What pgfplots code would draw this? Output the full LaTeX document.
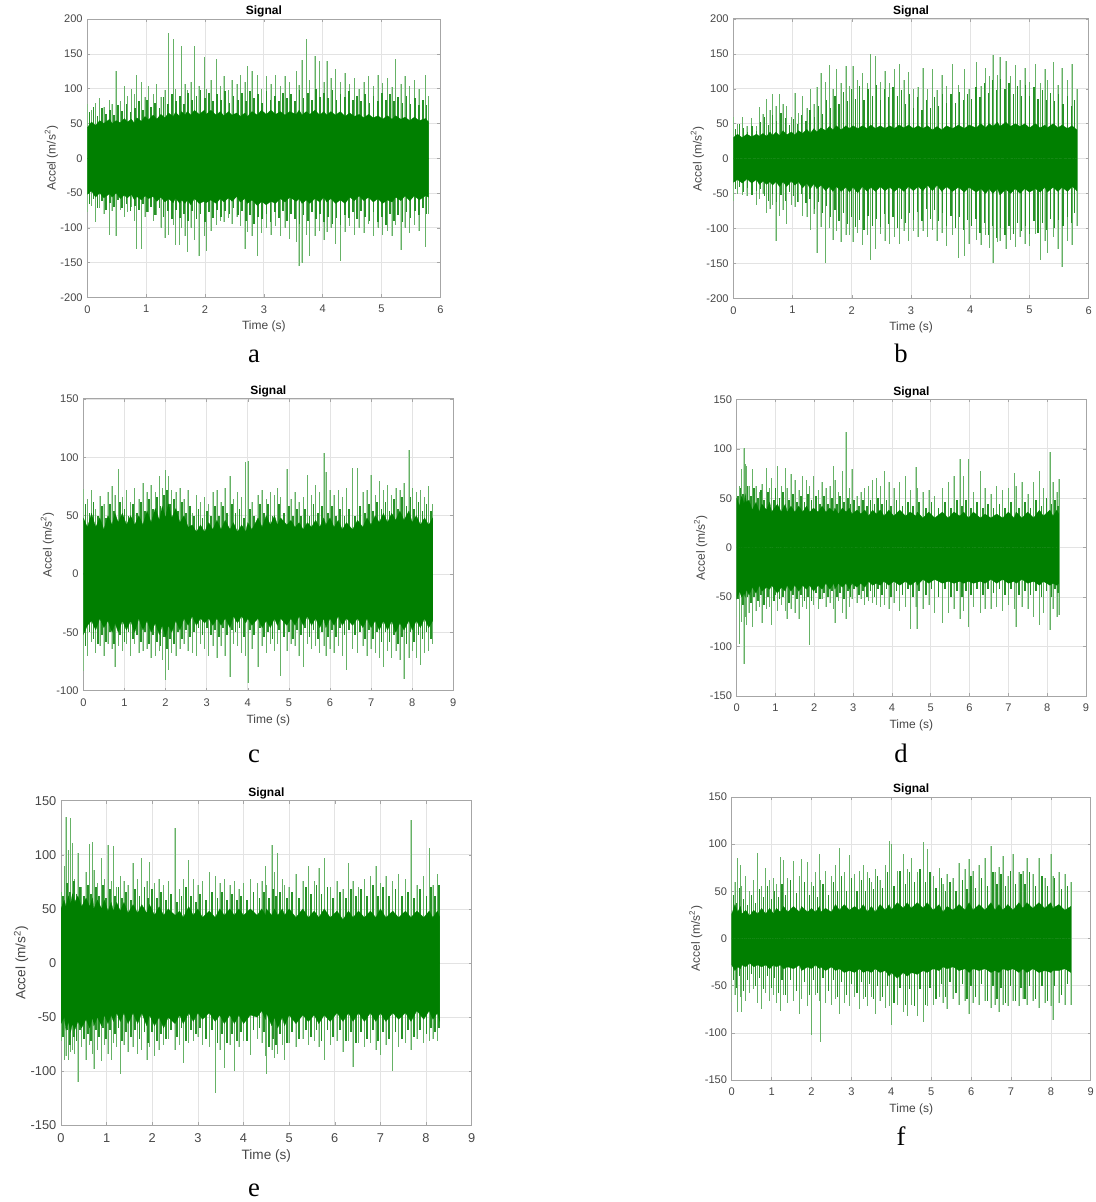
\documentclass[border=0pt]{standalone}
\usepackage{fontspec}
\setmainfont{Liberation Sans}
\newfontfamily\capfont{Liberation Serif}
\usepackage{pgfplots}
\usepackage{pgfplotstable}
\pgfplotsset{compat=1.18}
\definecolor{sg}{RGB}{0,127,0}
\definecolor{tk}{RGB}{70,70,70}

% columns: time, peak up, peak down, top and bottom of the solid band
\pgfplotstableread{
t up dn cu cd
0.00 78 -78 44 -52
0.07 70 -68 52 -47
0.14 80 -92 47 -56
0.21 86 -72 54 -50
0.28 74 -80 50 -57
0.38 84 -110 56 -51
0.42 78 -76 50 -56
0.49 126 -112 54 -50
0.56 82 -74 51 -58
0.63 104 -84 57 -53
0.68 90 -78 52 -57
0.75 100 -70 56 -52
0.80 92 -90 50 -60
0.84 119 -130 58 -55
0.92 110 -130 53 -60
0.98 88 -84 60 -54
1.04 104 -78 55 -58
1.12 92 -90 62 -55
1.18 106 -82 56 -62
1.25 88 -100 63 -56
1.32 98 -114 58 -63
1.38 180 -110 65 -58
1.46 171 -96 60 -64
1.50 100 -125 66 -57
1.57 90 -125 60 -65
1.60 162 -100 67 -60
1.66 106 -112 62 -65
1.70 98 -135 67 -60
1.76 110 -100 62 -67
1.82 162 -118 69 -58
1.90 104 -140 63 -65
1.99 145 -112 69 -62
2.02 100 -133 63 -64
2.10 112 -104 69 -60
2.19 143 -96 62 -65
2.26 104 -90 67 -58
2.32 118 -92 61 -63
2.40 98 -86 67 -57
2.46 112 -94 62 -62
2.54 106 -84 65 -55
2.60 120 -98 60 -63
2.68 110 -130 65 -58
2.72 133 -106 60 -65
2.80 126 -112 67 -60
2.89 120 -140 62 -68
2.96 100 -108 69 -62
3.04 118 -100 63 -67
3.12 106 -110 69 -62
3.20 120 -98 63 -65
3.28 104 -112 67 -58
3.36 118 -100 62 -63
3.44 110 -116 67 -56
3.55 125 -120 63 -62
3.60 105 -155 69 -58
3.65 141 -150 62 -65
3.72 172 -110 67 -60
3.78 112 -140 63 -65
3.87 147 -112 69 -58
3.95 140 -104 62 -63
4.02 110 -118 67 -56
4.07 140 -106 62 -63
4.14 116 -100 67 -58
4.22 128 -124 62 -65
4.30 110 -148 67 -60
4.38 122 -106 60 -65
4.46 106 -98 65 -56
4.54 116 -110 60 -61
4.62 100 -100 63 -54
4.70 110 -108 58 -61
4.78 118 -94 63 -56
4.86 104 -112 58 -63
4.94 120 -100 61 -58
5.02 108 -110 56 -65
5.10 116 -104 61 -60
5.18 102 -112 56 -63
5.24 143 -96 61 -56
5.33 106 -132 56 -61
5.40 118 -100 59 -54
5.48 104 -108 54 -61
5.56 112 -96 59 -54
5.64 100 -104 54 -60
5.75 119 -128 57 -54
5.80 90 -80 52 -56
}\ta
\pgfplotstableread{
t mu md
0.035 66 -66
0.105 74 -58
0.175 60 -72
0.245 72 -62
0.315 64 -74
0.385 70 -64
0.455 62 -70
0.525 76 -60
0.595 68 -72
0.665 78 -66
0.735 66 -76
0.805 72 -68
0.875 82 -74
0.945 70 -66
1.015 84 -78
1.085 74 -70
1.155 80 -82
1.225 72 -72
1.295 88 -84
1.365 78 -76
1.435 92 -88
1.505 82 -74
1.575 90 -86
1.645 78 -80
1.715 94 -90
1.785 84 -76
1.855 90 -88
1.925 98 -80
1.995 86 -92
2.065 94 -78
2.135 82 -86
2.205 92 -74
2.275 84 -84
2.345 96 -76
2.415 80 -80
2.485 90 -72
2.555 84 -82
2.625 94 -76
2.695 82 -90
2.765 96 -82
2.835 86 -94
2.905 92 -84
2.975 80 -88
3.045 96 -80
3.115 84 -92
3.185 90 -78
3.255 82 -86
3.325 94 -76
3.395 86 -90
3.465 92 -80
3.535 82 -88
3.605 98 -94
3.675 86 -82
3.745 94 -90
3.815 84 -78
3.885 100 -88
3.955 88 -80
4.025 94 -92
4.095 86 -84
4.165 98 -94
4.235 84 -86
4.305 92 -96
4.375 88 -82
4.445 96 -86
4.515 84 -78
4.585 90 -88
4.655 82 -76
4.725 92 -84
4.795 80 -90
4.865 90 -78
4.935 82 -92
5.005 94 -84
5.075 84 -96
5.145 92 -80
5.215 82 -90
5.285 88 -82
5.355 80 -92
5.425 90 -78
5.495 78 -86
5.565 86 -76
5.635 76 -82
5.705 84 -72
5.765 76 -80
}\ma

\pgfplotstableread{
t up dn cu cd
0.00 60 -60 30 -34
0.07 50 -50 35 -30
0.15 59 -52 30 -35
0.23 47 -54 35 -29
0.31 58 -48 31 -35
0.39 46 -66 35 -30
0.44 74 -58 32 -37
0.50 64 -50 36 -32
0.56 85 -78 32 -37
0.62 70 -72 38 -33
0.66 92 -66 33 -38
0.72 76 -118 38 -33
0.78 92 -82 33 -40
0.84 78 -74 40 -33
0.90 76 -94 34 -40
0.98 60 -66 38 -32
1.04 94 -70 34 -38
1.10 66 -62 40 -33
1.17 90 -82 36 -42
1.24 72 -84 42 -35
1.30 100 -102 36 -43
1.36 78 -80 43 -36
1.41 102 -135 38 -43
1.48 122 -98 44 -38
1.56 110 -150 40 -46
1.62 134 -100 46 -40
1.68 100 -116 41 -47
1.74 128 -104 47 -40
1.82 108 -120 41 -47
1.90 133 -110 47 -41
1.96 104 -110 43 -48
2.02 133 -120 47 -41
2.10 112 -106 43 -49
2.18 122 -124 47 -40
2.26 108 -110 43 -47
2.32 150 -145 48 -41
2.40 147 -130 43 -47
2.48 110 -108 47 -40
2.56 126 -118 43 -46
2.64 108 -122 47 -41
2.72 128 -112 43 -47
2.80 135 -122 48 -41
2.88 112 -104 44 -47
2.96 124 -118 48 -40
3.04 100 -104 43 -46
3.12 102 -112 47 -40
3.20 130 -104 43 -46
3.28 100 -112 47 -38
3.36 128 -102 41 -46
3.44 98 -118 46 -38
3.52 120 -106 41 -47
3.60 104 -125 47 -40
3.70 135 -110 43 -47
3.80 106 -143 48 -41
3.90 128 -140 43 -48
3.98 100 -122 48 -41
4.10 138 -116 44 -48
4.18 104 -124 50 -43
4.26 130 -110 44 -50
4.32 118 -128 50 -43
4.38 149 -150 46 -50
4.46 120 -120 52 -43
4.50 145 -118 46 -52
4.60 140 -130 52 -44
4.68 118 -116 46 -50
4.76 134 -126 50 -43
4.84 112 -112 46 -50
4.92 130 -122 50 -43
5.00 110 -125 44 -48
5.10 135 -108 50 -43
5.18 108 -145 44 -48
5.26 128 -118 48 -41
5.30 112 -135 44 -48
5.40 138 -112 50 -41
5.48 106 -130 44 -47
5.55 130 -155 48 -41
5.64 112 -118 43 -47
5.72 135 -124 47 -40
5.80 100 -96 41 -46
}\tb
\pgfplotstableread{
t mu md
0.035 42 -44
0.105 50 -40
0.175 44 -48
0.245 38 -42
0.315 46 -52
0.385 40 -46
0.455 52 -44
0.525 60 -54
0.595 48 -60
0.665 62 -50
0.735 54 -62
0.805 66 -52
0.875 58 -60
0.945 48 -48
1.015 56 -54
1.085 50 -62
1.155 62 -50
1.225 54 -64
1.295 70 -58
1.365 60 -72
1.435 76 -62
1.505 64 -78
1.575 84 -68
1.645 72 -84
1.715 90 -74
1.785 78 -90
1.855 96 -78
1.925 82 -94
1.995 100 -84
2.065 86 -98
2.135 104 -88
2.205 84 -102
2.275 100 -82
2.345 90 -96
2.415 106 -86
2.485 84 -98
2.555 100 -80
2.625 88 -94
2.695 102 -84
2.765 90 -100
2.835 98 -86
2.905 78 -92
2.975 92 -78
3.045 72 -88
3.115 88 -76
3.185 70 -90
3.255 84 -72
3.325 72 -86
3.395 88 -74
3.465 76 -90
3.535 92 -78
3.605 80 -96
3.675 92 -82
3.745 80 -100
3.815 96 -84
3.885 84 -102
3.955 92 -88
4.025 86 -96
4.095 102 -86
4.165 88 -106
4.235 108 -92
4.305 94 -110
4.375 112 -96
4.445 98 -114
4.515 114 -100
4.585 100 -110
4.655 108 -96
4.725 92 -108
4.795 104 -92
4.865 90 -104
4.935 106 -96
5.005 90 -108
5.075 102 -90
5.145 86 -106
5.215 98 -92
5.285 84 -102
5.355 94 -86
5.425 82 -100
5.495 92 -88
5.565 78 -96
5.635 90 -84
5.705 76 -92
5.765 84 -78
}\mb

\pgfplotstableread{
t up dn cu cd
0.00 73 -83 48 -52
0.10 64 -70 40 -44
0.20 72 -58 52 -40
0.30 56 -68 40 -48
0.40 67 -62 48 -38
0.50 60 -70 38 -46
0.60 70 -60 50 -40
0.70 75 -64 42 -50
0.77 68 -80 52 -42
0.85 90 -62 44 -50
0.95 66 -66 52 -40
1.05 72 -60 42 -48
1.15 62 -70 50 -40
1.25 74 -60 42 -50
1.35 64 -68 50 -38
1.45 78 -66 42 -48
1.55 70 -64 54 -40
1.65 76 -72 44 -50
1.75 70 -70 56 -42
1.85 84 -66 46 -52
1.92 74 -74 58 -44
2.00 89 -91 48 -54
2.07 84 -82 60 -44
2.15 72 -68 48 -50
2.25 70 -70 56 -40
2.35 74 -64 44 -48
2.45 64 -60 50 -38
2.55 72 -66 40 -44
2.65 52 -68 42 -36
2.75 68 -70 36 -44
2.85 62 -60 42 -38
2.95 66 -64 36 -42
3.05 60 -70 44 -38
3.15 70 -62 38 -44
3.25 72 -72 46 -38
3.35 62 -62 38 -44
3.45 74 -70 46 -38
3.57 84 -88 38 -46
3.65 64 -60 44 -36
3.75 70 -62 36 -42
3.85 66 -68 42 -36
3.95 96 -70 36 -42
4.00 97 -93 44 -38
4.10 62 -64 38 -44
4.25 68 -80 48 -38
4.35 72 -62 40 -46
4.45 64 -68 50 -40
4.55 70 -60 42 -46
4.65 68 -66 50 -38
4.72 74 -60 42 -44
4.80 66 -87 48 -38
4.95 90 -66 42 -44
5.05 64 -60 46 -38
5.15 70 -62 40 -44
5.25 62 -70 44 -36
5.35 66 -80 38 -44
5.45 85 -60 44 -36
5.55 68 -64 40 -44
5.65 76 -62 46 -38
5.75 70 -68 40 -46
5.85 104 -62 48 -38
5.90 87 -70 42 -46
6.00 72 -64 48 -38
6.10 68 -68 40 -44
6.20 72 -62 46 -36
6.30 66 -70 38 -44
6.40 74 -82 44 -38
6.55 91 -64 38 -44
6.67 91 -68 46 -38
6.80 70 -62 40 -46
6.90 72 -70 48 -38
7.00 85 -64 42 -46
7.10 68 -68 50 -40
7.20 80 -72 44 -48
7.30 72 -80 52 -40
7.40 76 -66 44 -48
7.50 68 -72 52 -40
7.60 74 -66 46 -50
7.70 72 -74 54 -42
7.80 78 -90 46 -48
7.92 106 -72 54 -40
8.00 74 -66 44 -48
8.10 70 -72 50 -40
8.20 72 -78 42 -46
8.30 66 -68 48 -38
8.40 75 -66 42 -46
8.50 60 -60 48 -40
}\tc
\pgfplotstableread{
t mu md
0.05 60 -62
0.15 52 -50
0.25 62 -56
0.35 50 -60
0.45 58 -52
0.55 48 -58
0.65 60 -50
0.75 54 -60
0.90 62 -52
1.00 56 -58
1.10 50 -50
1.20 60 -56
1.30 52 -52
1.40 62 -58
1.50 54 -50
1.60 64 -60
1.70 56 -52
1.80 66 -58
1.88 58 -62
1.96 68 -54
2.04 72 -64
2.11 60 -56
2.20 64 -60
2.30 54 -50
2.40 62 -56
2.50 52 -48
2.60 58 -54
2.70 50 -50
2.80 56 -46
2.90 48 -52
3.00 54 -46
3.10 50 -52
3.20 58 -48
3.30 50 -54
3.40 58 -46
3.50 52 -52
3.61 60 -48
3.70 52 -50
3.80 56 -46
3.90 48 -54
4.05 56 -48
4.15 50 -52
4.30 60 -46
4.40 52 -54
4.50 60 -50
4.60 50 -56
4.76 60 -48
4.88 52 -54
5.00 58 -50
5.10 50 -56
5.20 56 -48
5.30 50 -52
5.40 56 -46
5.50 50 -54
5.60 60 -48
5.70 52 -56
5.80 58 -50
5.95 52 -54
6.05 58 -48
6.15 50 -54
6.25 56 -46
6.35 50 -52
6.47 56 -48
6.60 50 -52
6.73 58 -50
6.85 52 -56
6.95 60 -48
7.05 54 -56
7.15 62 -50
7.25 56 -58
7.35 62 -50
7.45 54 -58
7.55 64 -52
7.65 56 -60
7.75 66 -54
7.86 58 -60
7.96 66 -50
8.05 56 -58
8.15 62 -52
8.25 54 -56
8.35 60 -50
8.45 54 -56
}\mc

\pgfplotstableread{
t up dn cu cd
0.00 60 -70 50 -52
0.07 62 -97 42 -44
0.13 80 -75 52 -50
0.19 101 -118 44 -46
0.22 85 -70 54 -50
0.25 83 -78 46 -42
0.32 62 -66 48 -48
0.40 80 -80 38 -40
0.50 62 -64 46 -46
0.58 56 -60 36 -38
0.65 64 -76 44 -44
0.77 81 -62 38 -40
0.85 60 -60 46 -42
0.90 70 -78 36 -38
1.05 83 -64 44 -46
1.15 62 -58 36 -40
1.25 81 -64 44 -44
1.30 60 -72 36 -38
1.40 74 -62 42 -44
1.50 68 -66 36 -38
1.60 58 -72 42 -44
1.70 72 -60 36 -38
1.80 68 -62 42 -42
1.88 62 -98 36 -38
1.98 72 -58 40 -44
2.10 58 -62 36 -38
2.20 66 -52 42 -42
2.30 60 -60 36 -36
2.40 62 -56 40 -42
2.50 83 -62 36 -36
2.53 68 -76 40 -42
2.62 56 -54 34 -36
2.72 78 -66 40 -40
2.82 117 -72 36 -36
2.90 60 -60 40 -42
2.97 80 -52 34 -36
3.10 52 -56 38 -40
3.20 56 -52 34 -36
3.30 60 -58 38 -40
3.40 62 -54 32 -34
3.50 68 -56 38 -38
3.60 70 -58 34 -36
3.70 62 -60 38 -38
3.80 78 -58 32 -34
3.92 66 -62 38 -38
4.05 60 -56 32 -34
4.20 66 -64 38 -38
4.35 72 -60 32 -34
4.47 58 -82 36 -38
4.62 82 -60 32 -34
4.65 60 -82 36 -38
4.80 56 -62 30 -32
4.95 58 -58 36 -36
5.10 52 -66 30 -32
5.30 60 -76 36 -36
5.45 66 -66 30 -34
5.60 72 -62 36 -36
5.75 90 -72 32 -34
5.85 72 -64 36 -36
5.97 90 -80 30 -34
6.10 56 -60 36 -36
6.28 78 -66 30 -34
6.40 60 -62 34 -36
6.55 54 -62 30 -32
6.70 62 -60 34 -36
6.85 58 -64 30 -32
7.00 60 -58 36 -36
7.15 76 -62 30 -34
7.20 62 -80 36 -36
7.35 66 -60 30 -32
7.50 54 -62 36 -36
7.65 66 -70 30 -34
7.80 78 -78 38 -38
7.90 60 -66 32 -34
8.07 97 -83 38 -38
8.15 66 -62 32 -36
8.25 56 -70 38 -38
8.30 69 -68 34 -36
}\td
\pgfplotstableread{
t mu md
0.04 52 -52
0.10 60 -46
0.16 54 -58
0.28 62 -50
0.36 52 -56
0.45 60 -50
0.54 50 -54
0.62 58 -48
0.71 48 -58
0.81 56 -50
0.96 48 -54
1.00 60 -48
1.10 50 -52
1.20 56 -50
1.35 48 -56
1.45 54 -48
1.55 46 -52
1.65 52 -48
1.75 46 -54
1.84 54 -50
1.93 48 -54
2.04 52 -46
2.15 44 -52
2.25 52 -46
2.35 44 -50
2.45 50 -44
2.58 44 -50
2.67 52 -46
2.77 46 -52
2.86 50 -44
2.93 44 -50
3.03 48 -42
3.15 42 -48
3.25 48 -44
3.35 42 -50
3.45 48 -44
3.55 44 -50
3.65 50 -42
3.75 44 -48
3.86 48 -42
3.98 42 -50
4.12 48 -44
4.27 42 -48
4.41 46 -42
4.54 42 -50
4.70 46 -44
4.87 40 -48
5.02 46 -42
5.20 40 -50
5.37 46 -42
5.52 40 -50
5.67 48 -44
5.80 42 -50
5.91 48 -44
6.03 40 -48
6.19 46 -42
6.34 40 -48
6.47 44 -42
6.62 40 -46
6.77 44 -42
6.92 40 -48
7.07 46 -42
7.27 40 -48
7.42 46 -44
7.57 40 -48
7.72 48 -44
7.85 42 -50
7.98 50 -44
8.11 44 -50
8.20 48 -42
8.27 42 -46
}\md

\pgfplotstableread{
t up dn cu cd
0.00 66 -72 50 -56
0.07 90 -90 58 -50
0.11 135 -86 52 -62
0.16 104 -90 62 -54
0.21 134 -82 54 -64
0.25 111 -80 64 -56
0.30 78 -84 56 -62
0.37 102 -110 62 -54
0.45 70 -78 52 -60
0.55 84 -90 60 -52
0.63 110 -76 52 -60
0.69 112 -84 60 -50
0.72 86 -98 50 -58
0.80 74 -80 58 -50
0.89 97 -91 50 -58
0.95 78 -76 58 -48
1.03 109 -84 48 -56
1.10 76 -90 56 -48
1.15 108 -74 48 -54
1.22 70 -78 56 -46
1.30 80 -103 48 -54
1.38 76 -76 56 -46
1.47 72 -82 46 -56
1.58 92 -78 54 -46
1.68 78 -84 46 -56
1.77 97 -80 54 -46
1.88 76 -90 46 -58
1.94 93 -78 54 -48
2.05 74 -86 44 -58
2.15 78 -80 52 -50
2.25 72 -76 44 -60
2.35 76 -70 50 -50
2.50 125 -80 44 -56
2.60 68 -76 48 -48
2.68 78 -92 42 -56
2.80 95 -74 52 -46
2.90 78 -72 44 -54
3.00 72 -68 50 -46
3.10 76 -76 42 -52
3.25 84 -78 48 -46
3.38 80 -120 42 -54
3.48 74 -80 50 -48
3.58 78 -97 44 -56
3.70 72 -76 50 -48
3.80 76 -100 44 -56
3.90 68 -78 50 -48
4.00 74 -72 44 -56
4.15 78 -85 50 -48
4.30 74 -70 44 -50
4.40 76 -74 50 -44
4.48 90 -86 44 -52
4.50 72 -103 50 -46
4.62 109 -80 44 -58
4.68 84 -88 50 -50
4.75 102 -84 44 -60
4.85 78 -76 50 -50
4.90 72 -90 44 -58
5.00 70 -74 50 -48
5.15 82 -78 42 -56
5.30 76 -70 50 -48
5.42 90 -76 42 -54
5.55 76 -72 48 -48
5.65 88 -78 42 -56
5.77 97 -90 50 -48
5.90 70 -76 42 -54
6.05 76 -72 48 -46
6.18 68 -82 40 -54
6.30 92 -72 48 -46
6.40 76 -96 42 -54
6.52 70 -74 48 -46
6.65 78 -78 42 -54
6.78 80 -74 48 -46
6.90 90 -80 42 -54
7.00 74 -85 50 -46
7.12 80 -76 42 -54
7.27 76 -100 48 -46
7.40 82 -78 42 -52
7.55 78 -74 48 -46
7.67 132 -80 42 -54
7.80 72 -70 48 -44
7.95 80 -74 42 -52
8.07 106 -72 48 -44
8.15 72 -70 42 -52
8.25 82 -72 48 -46
8.30 62 -56 42 -54
}\te
\pgfplotstableread{
t mu md
0.04 62 -68
0.13 74 -62
0.19 66 -76
0.28 76 -68
0.34 64 -72
0.41 70 -62
0.50 62 -70
0.59 72 -66
0.66 64 -72
0.76 70 -62
0.84 62 -68
0.92 72 -60
0.99 60 -70
1.07 68 -62
1.19 62 -66
1.26 70 -60
1.34 60 -72
1.43 66 -64
1.53 58 -68
1.63 68 -62
1.72 62 -70
1.83 70 -64
1.91 60 -74
2.00 68 -64
2.10 60 -72
2.20 66 -66
2.30 58 -70
2.42 64 -62
2.55 56 -68
2.64 62 -60
2.74 70 -72
2.85 62 -62
2.95 56 -66
3.05 64 -60
3.17 58 -70
3.31 66 -62
3.43 60 -74
3.53 66 -66
3.64 58 -74
3.75 64 -66
3.85 58 -72
3.95 62 -64
4.07 58 -72
4.22 66 -62
4.35 60 -60
4.44 66 -64
4.56 60 -78
4.65 68 -70
4.72 62 -76
4.80 66 -66
4.95 60 -74
5.07 66 -64
5.22 60 -70
5.36 70 -62
5.48 64 -68
5.60 72 -62
5.71 64 -72
5.84 70 -62
5.97 60 -68
6.11 66 -62
6.24 60 -72
6.35 68 -64
6.46 62 -74
6.58 68 -64
6.71 62 -70
6.84 72 -62
6.95 62 -72
7.06 70 -64
7.19 62 -70
7.33 68 -64
7.47 62 -70
7.61 66 -62
7.74 60 -68
7.87 68 -62
8.01 62 -66
8.11 70 -60
8.20 62 -64
8.28 72 -60
}\me

\pgfplotstableread{
t up dn cu cd
0.00 73 -67 26 -28
0.08 60 -60 36 -34
0.15 85 -78 28 -30
0.22 78 -62 34 -32
0.25 56 -78 26 -28
0.35 66 -66 30 -30
0.45 50 -58 24 -26
0.55 62 -54 30 -30
0.65 91 -68 26 -28
0.75 56 -75 32 -30
0.85 75 -58 26 -28
0.95 62 -66 32 -32
1.05 64 -60 26 -28
1.12 58 -68 32 -30
1.22 86 -77 28 -28
1.30 83 -60 34 -32
1.40 64 -68 28 -30
1.55 82 -66 34 -32
1.70 66 -80 28 -28
1.75 84 -64 34 -34
1.90 81 -72 28 -30
2.00 60 -102 32 -32
2.10 70 -60 28 -28
2.20 90 -66 34 -32
2.23 62 -110 28 -30
2.35 72 -68 32 -34
2.50 66 -70 28 -30
2.60 78 -64 36 -34
2.70 96 -80 30 -32
2.82 70 -68 36 -36
2.95 89 -72 30 -34
3.08 68 -62 34 -36
3.20 72 -75 30 -32
3.30 78 -64 36 -36
3.40 70 -72 28 -34
3.50 60 -62 34 -36
3.60 74 -80 28 -32
3.72 62 -66 36 -36
3.85 78 -74 30 -34
3.95 103 -72 36 -40
4.00 100 -92 30 -36
4.15 72 -70 38 -42
4.30 90 -78 32 -36
4.40 74 -82 38 -40
4.50 85 -70 32 -36
4.65 70 -82 38 -38
4.80 102 -88 32 -34
4.90 95 -72 38 -36
5.05 66 -70 30 -32
5.20 75 -62 36 -34
5.30 58 -68 28 -30
5.40 68 -75 34 -32
5.55 64 -64 30 -30
5.70 80 -70 36 -34
5.85 74 -66 30 -32
5.95 84 -80 38 -36
6.05 72 -68 30 -32
6.20 78 -70 36 -34
6.35 85 -66 30 -32
6.50 98 -74 38 -36
6.60 70 -70 30 -34
6.70 76 -78 36 -36
6.80 88 -70 30 -32
6.92 66 -72 36 -34
7.05 90 -66 30 -32
7.20 70 -72 38 -36
7.30 72 -64 32 -32
7.40 85 -70 38 -36
7.55 68 -66 32 -32
7.70 85 -74 38 -36
7.85 64 -68 32 -34
8.00 90 -72 38 -36
8.05 66 -86 32 -34
8.20 71 -68 36 -34
8.35 68 -70 30 -32
8.50 60 -70 34 -36
}\tf
\pgfplotstableread{
t mu md
0.04 46 -44
0.11 38 -52
0.19 54 -40
0.30 42 -56
0.40 36 -44
0.50 46 -38
0.60 38 -50
0.70 52 -42
0.80 44 -54
0.90 56 -40
1.00 42 -52
1.08 50 -42
1.17 44 -58
1.26 58 -44
1.35 46 -60
1.47 62 -44
1.62 48 -56
1.82 60 -46
1.95 46 -60
2.05 56 -44
2.15 44 -58
2.29 58 -42
2.42 46 -56
2.55 60 -44
2.65 50 -62
2.76 66 -46
2.88 50 -60
3.01 64 -48
3.14 50 -58
3.25 62 -46
3.35 50 -62
3.45 64 -48
3.55 52 -64
3.66 66 -50
3.78 54 -62
3.90 70 -50
4.07 56 -68
4.22 72 -52
4.35 58 -70
4.45 70 -54
4.58 60 -72
4.72 74 -54
4.85 60 -70
4.97 70 -52
5.12 54 -64
5.25 64 -48
5.35 50 -62
5.47 60 -46
5.62 50 -58
5.78 62 -48
5.90 52 -64
6.00 66 -50
6.12 54 -62
6.27 64 -48
6.42 56 -66
6.55 70 -50
6.65 58 -64
6.75 68 -52
6.86 56 -68
6.98 72 -50
7.12 58 -66
7.25 68 -52
7.35 58 -64
7.47 70 -50
7.62 56 -64
7.78 66 -50
7.92 56 -66
8.10 64 -50
8.27 52 -60
8.42 56 -48
}\mf

\pgfplotsset{
  sig/.style={
    scale only axis, anchor=south west,
    axis line style={draw=gray!70, line width=0.7pt},
    xmajorgrids, ymajorgrids,
    major grid style={draw=gray!22, line width=0.5pt},
    tick style={draw=gray!70, line width=0.4pt},
    major tick length=2.2pt, tick align=inside,
    xtick pos=both, ytick pos=both,
    ticklabel style={text=tk},
    label style={text=tk},
    /pgf/number format/assume math mode=true,
    title={Signal},
    title style={text=black, yshift=-8.25pt, font=\bfseries\fontsize{9}{11}\selectfont},
    xlabel={Time (s)}, ylabel={Accel (m/s\textsuperscript{2})},
    xticklabel style={yshift=-2.5pt},
    xlabel style={yshift=1pt}, ylabel style={yshift=-5pt},
    label style={font=\fontsize{9}{11}\selectfont},
    tick label style={/pgf/number format/fixed, font=\fontsize{8.3}{10}\selectfont},
  },
}

% peaks, then the denser middle spikes, then the solid band
\newcommand{\signal}[3]{
  \addplot[ycomb, sg!28!white, line width=1pt, no marks] table[x=t,y=up] {#1};
  \addplot[ycomb, sg!28!white, line width=1pt, no marks] table[x=t,y=dn] {#1};
  \addplot[ycomb, sg!60!white, line width=0.4pt, no marks] table[x=t,y=up] {#1};
  \addplot[ycomb, sg!60!white, line width=0.4pt, no marks] table[x=t,y=dn] {#1};
  \addplot[ycomb, sg!85!white, line width=#3, no marks] table[x=t,y=mu] {#2};
  \addplot[ycomb, sg!85!white, line width=#3, no marks] table[x=t,y=md] {#2};
  \addplot[fill=sg, draw=sg, line width=0.2pt, no marks] table[x=t,y=cu] {#1} \closedcycle;
  \addplot[fill=sg, draw=sg, line width=0.2pt, no marks] table[x=t,y=cd] {#1} \closedcycle;
}

\begin{document}
\begin{tikzpicture}
\useasboundingbox (0,0) rectangle (821.25pt,-901.5pt);

\begin{axis}[sig, at={(65.5pt,-223pt)}, width=264.75pt, height=208.7pt,
  xmin=0, xmax=6, ymin=-200, ymax=200, xtick={0,1,...,6}, ytick={-200,-150,...,200}]
\signal{\ta}{\ma}{1.3pt}
\end{axis}

\begin{axis}[sig, at={(550pt,-223.7pt)}, width=266.55pt, height=209.5pt,
  xmin=0, xmax=6, ymin=-200, ymax=200, xtick={0,1,...,6}, ytick={-200,-150,...,200}]
\signal{\tb}{\mb}{0.9pt}
\end{axis}

\begin{axis}[sig, at={(62.5pt,-518pt)}, width=277.5pt, height=218.8pt,
  xmin=0, xmax=9, ymin=-100, ymax=150, xtick={0,1,...,9}, ytick={-100,-50,...,150}]
\signal{\tc}{\mc}{1.3pt}
\end{axis}

\begin{axis}[sig, at={(552.5pt,-522pt)}, width=262pt, height=222.5pt,
  xmin=0, xmax=9, ymin=-150, ymax=150, xtick={0,1,...,9}, ytick={-150,-100,...,150}]
\signal{\td}{\md}{1.3pt}
\end{axis}

\begin{axis}[sig, at={(45.75pt,-844pt)}, width=308pt, height=243.5pt,
  xmin=0, xmax=9, ymin=-150, ymax=150, xtick={0,1,...,9}, ytick={-150,-100,...,150},
  label style={font=\fontsize{10.2}{12}\selectfont},
  tick label style={font=\fontsize{9.6}{11}\selectfont},
  xlabel style={yshift=0.5pt}]
\signal{\te}{\me}{1.4pt}
\end{axis}

\begin{axis}[sig, at={(548.8pt,-810pt)}, width=269.25pt, height=212.25pt,
  xmin=0, xmax=9, ymin=-150, ymax=150, xtick={0,1,...,9}, ytick={-150,-100,...,150}]
\signal{\tf}{\mf}{0.9pt}
\end{axis}

\begin{scope}[every node/.style={font=\capfont\fontsize{20}{24}\selectfont, anchor=base}]
\node at (190.5pt,-272pt) {a};
\node at (675.8pt,-272pt) {b};
\node at (190.5pt,-572pt) {c};
\node at (675.8pt,-572pt) {d};
\node at (190.5pt,-897pt) {e};
\node at (675.8pt,-859pt) {f};
\end{scope}
\end{tikzpicture}
\end{document}
